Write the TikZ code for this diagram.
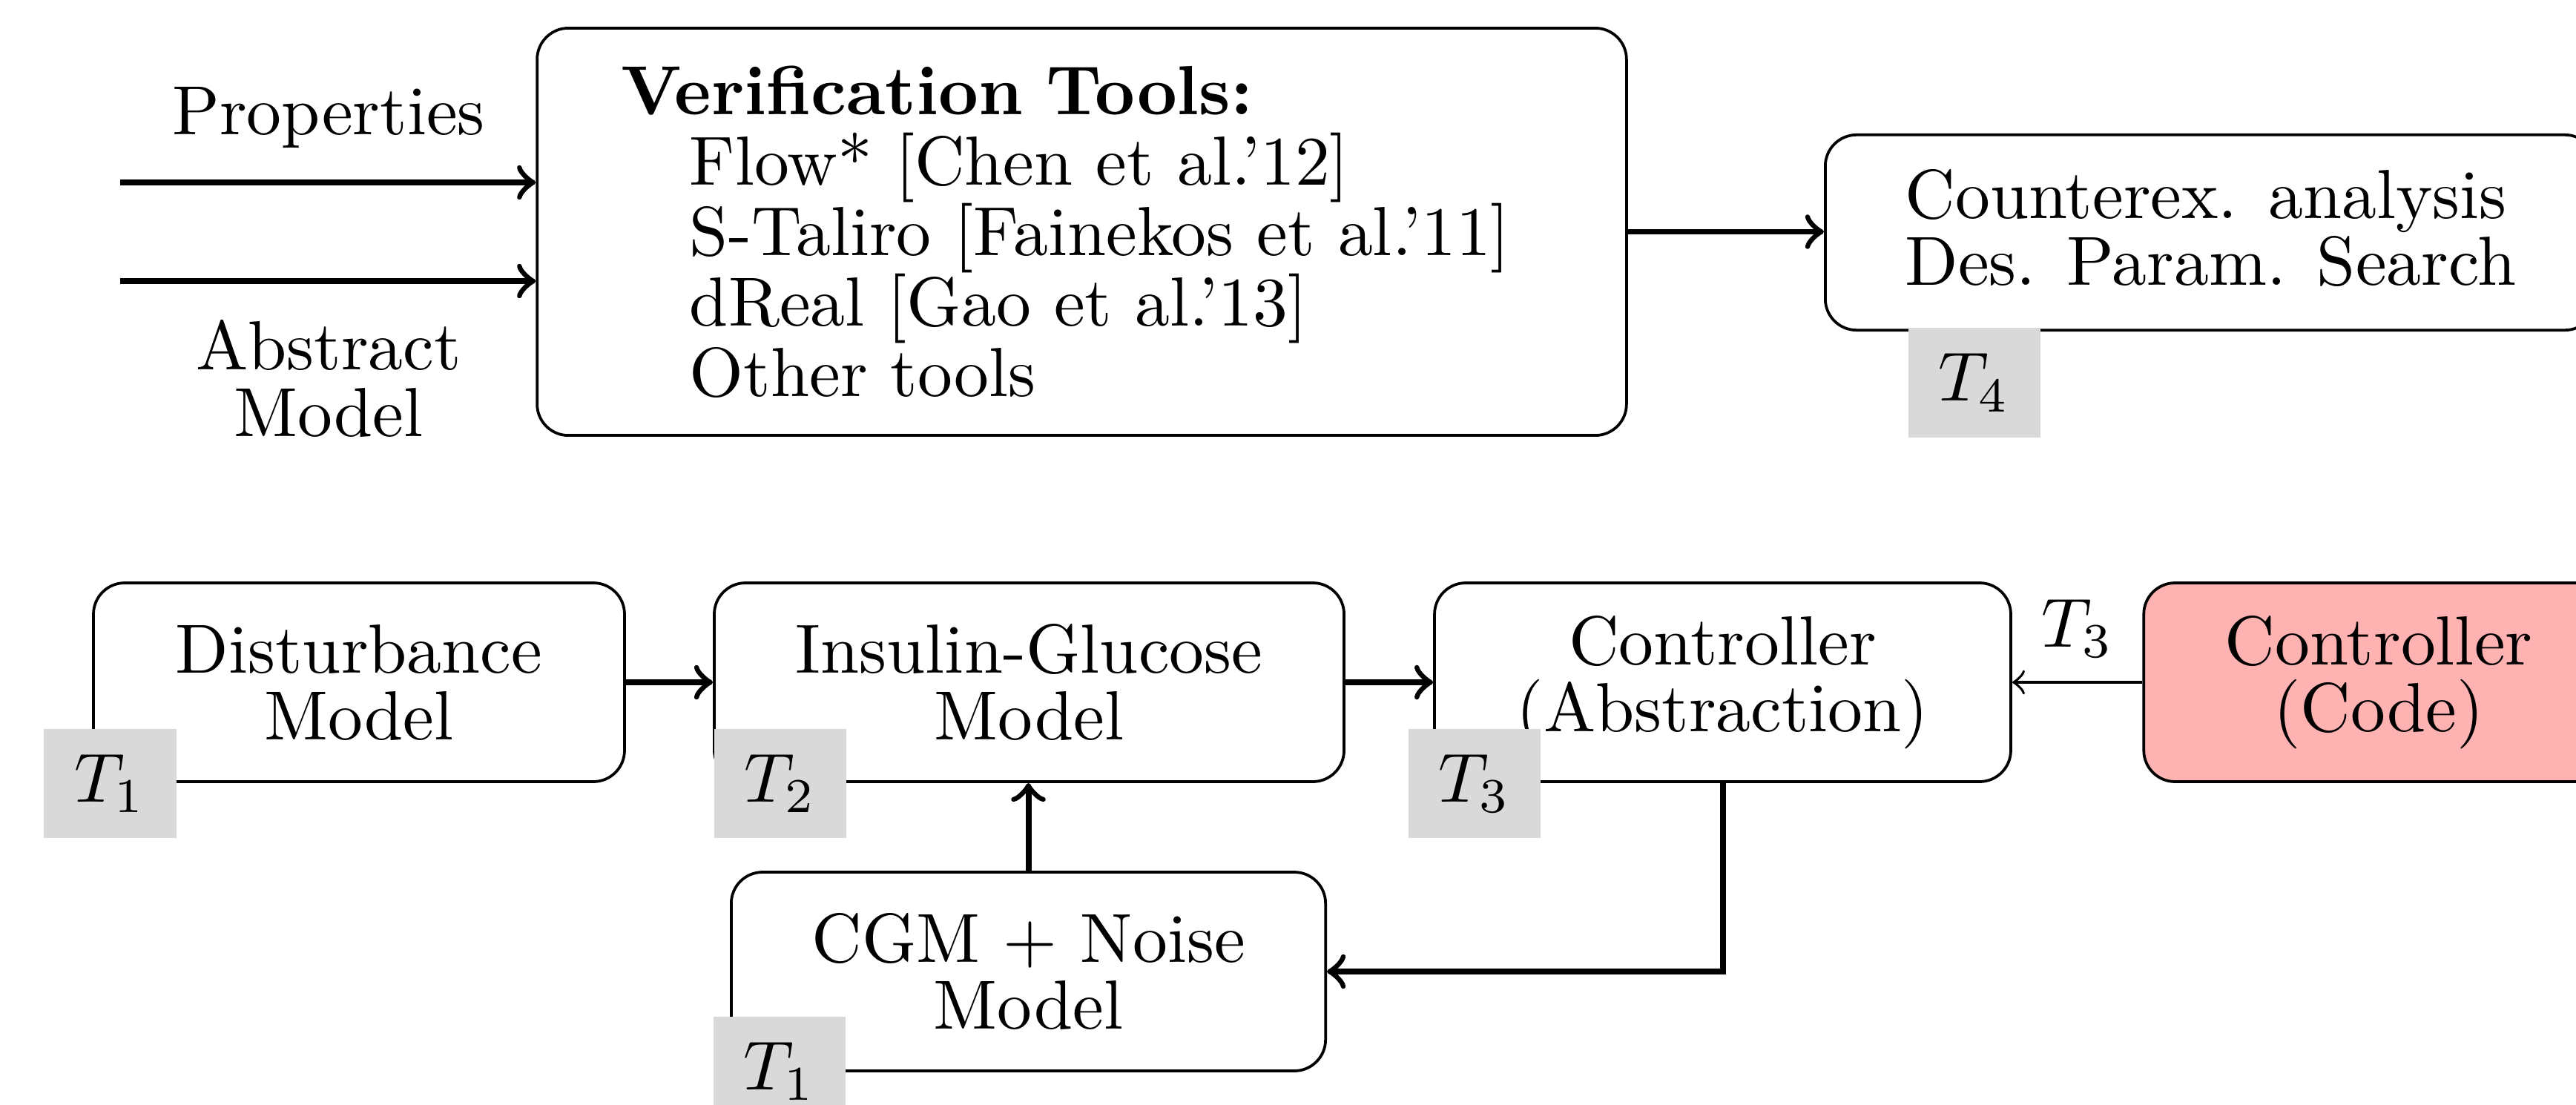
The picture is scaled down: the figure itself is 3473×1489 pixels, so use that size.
\documentclass[tikz,border=0pt]{standalone}
\definecolor{codepink}{RGB}{255,178,178}
\newcommand{\tightlines}{\fontsize{10}{9.6}\selectfont\lineskiplimit=-10pt\lineskip=0pt}
\newcommand{\verifl}{\fontsize{10}{10.15}\selectfont\lineskiplimit=-10pt\lineskip=0pt}
\tikzset{
  box/.style={draw, rounded corners=4.5pt, line width=0.4pt, font=\tightlines, align=center, inner sep=0pt},
  tag/.style={fill=black!15, minimum width=19pt, minimum height=15.7pt, inner sep=0pt, font=\fontsize{10}{12}\selectfont},
  flow/.style={->, line width=0.85pt},
  thinflow/.style={->, line width=0.4pt},
  lbl/.style={font=\tightlines, align=center}
}
\begin{document}
\begin{tikzpicture}[x=0.1067pt, y=-0.1067pt]
\useasboundingbox (0,0) rectangle (3473,1489);
\clip (0,0) rectangle (3473,1489);
% top row
\node[box, font=\verifl, minimum width=156.7pt, minimum height=58.6pt, text width=132.6pt, align=left, inner xsep=12.06pt] (verif) at (1458.5,312.5)
  {\textbf{Verification Tools:}\\
   \hspace*{9.9pt}Flow* [Chen et al.'12]\\
   \hspace*{9.9pt}S-Taliro [Fainekos et al.'11]\\
   \hspace*{9.9pt}dReal [Gao et al.'13]\\
   \hspace*{9.9pt}Other tools};
\node[box, minimum width=110.9pt, minimum height=28.1pt, align=left] (cex) at (2980.5,313.5) {\raisebox{1.4pt}{Counterex. analysis}\\\raisebox{1.4pt}{Des. Param. Search}};
\node[lbl] (props) at (443,159) {Properties};
\node[lbl] (absmod) at (443,510) {Abstract\\Model};
\coordinate (pin) at (162,246);
\coordinate (ain) at (162,379);
% bottom row
\node[box, minimum width=76.4pt, minimum height=28.6pt] (dist) at (484,920) {Disturbance\\Model};
\node[box, minimum width=90.6pt, minimum height=28.6pt] (ins) at (1387.5,920) {Insulin-Glucose\\Model};
\node[box, minimum width=82.9pt, minimum height=28.6pt] (abs) at (2322.5,920) {Controller\\(Abstraction)};
\node[box, fill=codepink, minimum width=67.6pt, minimum height=28.6pt] (code) at (3207,920) {Controller\\(Code)};
\node[box, minimum width=85.5pt, minimum height=28.6pt] (cgm) at (1386.5,1310) {CGM + Noise\\Model};
% connectors
\draw[flow] (pin) -- (pin -| verif.west);
\draw[flow] (ain) -- (ain -| verif.west);
\draw[flow] (verif.east) -- (verif.east -| cex.west);
\draw[flow] (dist.east) -- (ins.west);
\draw[flow] (ins.east) -- (abs.west);
\draw[thinflow] (code.west) -- node[above, font=\fontsize{10}{12}\selectfont] (t3lbl) {$T_3$} (abs.east);
\draw[flow] (cgm.north) -- (cgm.north |- ins.south);
\draw[flow] (abs.south) |- (cgm.east);
% tags
\node[tag] (t4) at (2661.5,516) {$T_4$};
\node[tag] (t1a) at (148.5,1056.5) {$T_1$};
\node[tag] (t2) at (1052,1056.5) {$T_2$};
\node[tag] (t3) at (1988,1056.5) {$T_3$};
\node[tag] (t1b) at (1051,1444.5) {$T_1$};
\end{tikzpicture}
\end{document}
